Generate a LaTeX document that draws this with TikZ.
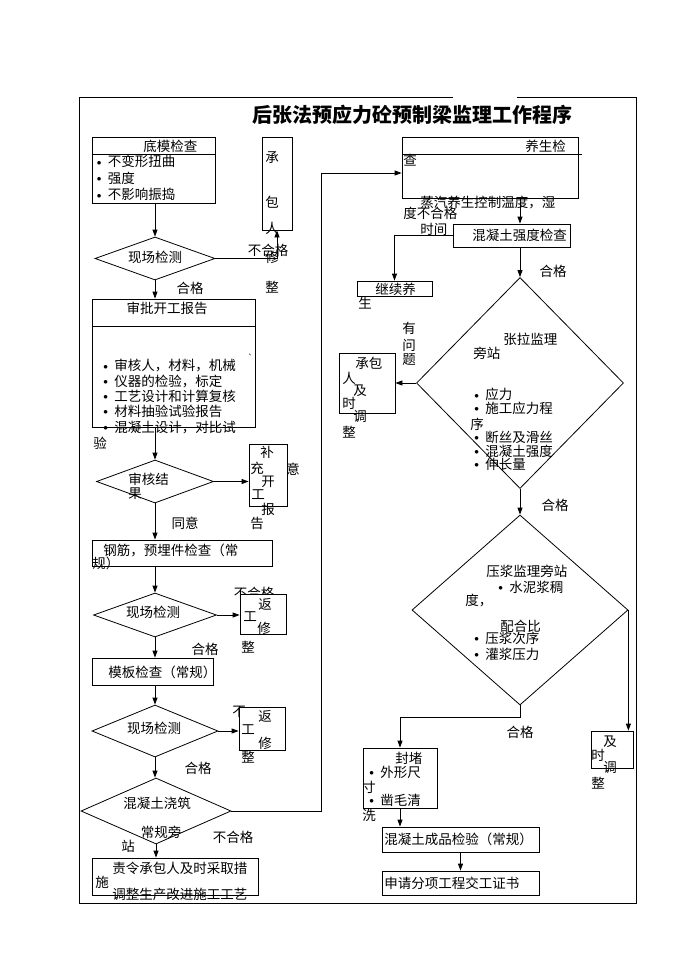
\documentclass[tikz,border=0pt]{standalone}
\usepackage{fontspec}
\setmainfont{Noto Sans CJK SC}
\usetikzlibrary{arrows.meta,shapes.geometric}

\newcommand\itm{\makebox[11pt][l]{\raisebox{0.25ex}{$\scriptstyle\bullet$}}}

\begin{document}
\begin{tikzpicture}[x=1pt,y=-1pt,
    >={Triangle[length=7pt,width=5pt]},
    line width=0.8pt,
    txt/.style={inner sep=0pt,font=\fontsize{13.5pt}{16.5pt}\selectfont},
    lst/.style={txt,align=left,anchor=north west}]
    \useasboundingbox (0,0) rectangle (690,975);

    % frame and title
    \draw (453,97) -- (79,97) -- (79,903) -- (636,903) -- (636,97) -- (517,97);
    \node[inner sep=0pt,font=\fontsize{20pt}{24pt}\selectfont\bfseries] (title) at (412,115) {后张法预应力砼预制梁监理工作程序};

    % labels that sit behind boxes
    \node[txt] (nq1) at (254,593) {不合格};
    \node[txt,anchor=west] (nq2) at (232,712) {不};
    \node[txt] (yi) at (293,469) {意};

    \begin{scope}[every node/.style={draw,fill=white,rectangle,inner sep=0pt}]
        \node[minimum width=123pt,minimum height=66pt] (bmjc) at (153.5,170) {};
        \node[minimum width=30pt,minimum height=93pt] (cbr1) at (277,183.5) {};
        \node[minimum width=163pt,minimum height=128pt] (spbg) at (173.5,363) {};
        \node[minimum width=38pt,minimum height=62pt] (bckg) at (268,475) {};
        \node[minimum width=180pt,minimum height=26pt] (gjyj) at (182,553) {};
        \node[minimum width=46pt,minimum height=40pt] (fx1) at (263,614) {};
        \node[minimum width=121pt,minimum height=27pt] (mbjc) at (152.5,671.5) {};
        \node[minimum width=46pt,minimum height=43pt] (fx2) at (262,728.5) {};
        \node[minimum width=166pt,minimum height=37pt] (zlcb) at (175,876.5) {};
        \node[minimum width=176pt,minimum height=61pt] (ysjc) at (490,167.5) {};
        \node[minimum width=117pt,minimum height=23pt] (qdjc) at (511.5,235.5) {};
        \node[minimum width=75pt,minimum height=15pt] (jxys) at (394.5,288.5) {};
        \node[minimum width=56pt,minimum height=60pt] (cbr2) at (367,383) {};
        \node[minimum width=42pt,minimum height=37pt] (jstz) at (612,749.5) {};
        \node[minimum width=74pt,minimum height=60pt] (fd) at (400,778) {};
        \node[minimum width=157pt,minimum height=25pt] (cpjy) at (460.5,839.5) {};
        \node[minimum width=157pt,minimum height=24pt] (sqjg) at (460.5,883) {};
    \end{scope}

    \begin{scope}[every node/.style={draw,fill=white,diamond,inner sep=0pt}]
        \node[minimum width=120pt,minimum height=43pt] (xc1) at (155,258.5) {};
        \node[minimum width=117pt,minimum height=43pt] (shjg) at (155,481.5) {};
        \node[minimum width=123pt,minimum height=44pt] (xc2) at (155,615) {};
        \node[minimum width=126pt,minimum height=52pt] (xc3) at (155,731) {};
        \node[minimum width=150pt,minimum height=66pt] (hnjz) at (156,811) {};
        \node[minimum width=207pt,minimum height=211pt] (zlpz) at (520,383) {};
        \node[minimum width=216pt,minimum height=190pt] (yjpz) at (520,610) {};
    \end{scope}

    % header lines
    \draw ([yshift=-18pt]bmjc.north west) -- ([yshift=-18pt]bmjc.north east);
    \draw ([yshift=-28pt]spbg.north west) -- ([yshift=-28pt]spbg.north east);
    \draw ([yshift=-18pt]ysjc.north west) -- ([yshift=-18pt,xshift=4pt]ysjc.north east);

    % connectors
    \path [->] (xc1.north |- bmjc.south) edge (xc1.north);
    \draw [->] (xc1.east) -| (cbr1.south);
    \path [->] (xc1.south) edge (xc1.south |- spbg.north);
    \path [->] (shjg.north |- spbg.south) edge (shjg.north);
    \path [->] (shjg.east) edge (shjg.east -| bckg.west);
    \path [->] (shjg.south) edge (shjg.south |- gjyj.north);
    \path [->] (xc2.north |- gjyj.south) edge (xc2.north);
    \path [->] (xc2.east) edge (xc2.east -| fx1.west);
    \path [->] (xc2.south) edge (xc2.south |- mbjc.north);
    \path [->] (xc3.north |- mbjc.south) edge (xc3.north);
    \path [->] (xc3.east) edge (xc3.east -| fx2.west);
    \path [->] (xc3.south) edge (xc3.south |- hnjz.north);
    \path [->] (hnjz.south) edge (hnjz.south |- zlcb.north);
    \coordinate (back) at (321,173);
    \draw [->] (hnjz.east) -| (back) -- (back -| ysjc.west);
    \path [->] (ysjc.south -| zlpz.north) edge (qdjc.north -| zlpz.north);
    \draw [->] (qdjc.west) -| (jxys.north);
    \path [->] (qdjc.south -| zlpz.north) edge (zlpz.north);
    \path [->] (zlpz.west) edge (zlpz.west -| cbr2.east);
    \path [->] (zlpz.south) edge (yjpz.north);
    \path [->] (yjpz.east) edge (yjpz.east |- jstz.north);
    \coordinate (yjturn) at (520,717);
    \draw [->] (yjpz.south) -- (yjturn) -| (fd.north);
    \path [->] (fd.south) edge (fd.south |- cpjy.north);
    \path [->] (cpjy.south) edge (sqjg.north);

    % texts, left column
    \node[txt,anchor=west] (t1) at (143,146) {底模检查};
    \node[lst] (t1l) at (96.5,155) {\itm 不变形扭曲\\\itm 强度\\\itm 不影响振捣};
    \foreach \c/\x/\y [count=\i] in {承/272/158,包/272/202,人/272/228,修/272/257,整/272/287}
        \node[txt] (cbr1t\i) at (\x,\y) {\c};
    \node[txt] (t2) at (155,257) {现场检测};
    \node[txt] (t2n) at (268,250) {不合格};
    \node[txt] (t2h) at (190,288) {合格};
    \node[txt] (t3) at (167,308) {审批开工报告};
    \node[txt,font=\fontsize{7pt}{8pt}\selectfont] (t3d) at (252,355) {、};
    \node[lst,font=\fontsize{13.5pt}{15.3pt}\selectfont] (t3l) at (103,359) {\itm 审核人，材料，机械\\\itm 仪器的检验，标定\\\itm 工艺设计和计算复核\\\itm 材料抽验试验报告\\\itm 混凝土设计，对比试};
    \node[txt,anchor=west] (t3y) at (93,443) {验};
    \node[lst,font=\fontsize{13.5pt}{14pt}\selectfont] (t4) at (128,473) {审核结\\果};
    \foreach \c/\x/\y [count=\i] in {补/267/452,充/257/468,开/268/482,工/258/495,报/268/509,告/257/523}
        \node[txt] (bckgt\i) at (\x,\y) {\c};
    \node[txt] (t4t) at (185,523) {同意};
    \node[txt,anchor=west] (t5) at (103,550) {钢筋，预埋件检查（常};
    \node[txt,anchor=west] (t5b) at (92,563) {规）};
    \node[txt] (t6) at (153,612) {现场检测};
    \foreach \c/\x/\y [count=\i] in {返/265/604,工/250/617,修/264/628,整/248/647}
        \node[txt] (fx1t\i) at (\x,\y) {\c};
    \node[txt] (t6h) at (205,649) {合格};
    \node[txt,anchor=west] (t7) at (108,672) {模板检查（常规）};
    \node[txt] (t8) at (154,728) {现场检测};
    \foreach \c/\x/\y [count=\i] in {返/265/716,工/248/730,修/265/743,整/248/757}
        \node[txt] (fx2t\i) at (\x,\y) {\c};
    \node[txt] (t8h) at (198,768) {合格};
    \node[txt] (t9) at (157,803) {混凝土浇筑};
    \node[txt] (t9b) at (161,832) {常规旁};
    \node[txt] (t9c) at (128,846) {站};
    \node[txt] (t9n) at (233,837) {不合格};
    \node[txt,anchor=west] (t10) at (112,868) {责令承包人及时采取措};
    \node[txt,anchor=west] (t10b) at (95,882) {施};
    \node[txt,anchor=west] (t10c) at (112,894) {调整生产改进施工工艺};

    % texts, right column
    \node[txt,anchor=west] (r1) at (525,146) {养生检};
    \node[txt,anchor=west] (r1b) at (403,160) {查};
    \node[txt,anchor=west] (r1c) at (420,202) {蒸汽养生控制温度，湿};
    \node[txt,anchor=west] (r1d) at (403,213) {度不合格};
    \node[txt,anchor=west] (r1e) at (420,229) {时间};
    \node[txt,anchor=west] (r2) at (472,235) {混凝土强度检查};
    \node[txt] (r2h) at (553,271) {合格};
    \node[txt,anchor=west] (r3) at (375,289) {继续养};
    \node[txt,anchor=west] (r3b) at (358,303) {生};
    \foreach \c/\y [count=\i] in {有/328,问/345,题/360}
        \node[txt] (yw\i) at (409,\y) {\c};
    \node[txt,anchor=west] (r4) at (355,363) {承包};
    \foreach \c/\x/\y [count=\i] in {人/349/378,及/360/391,时/349/403,调/360/417,整/349/432}
        \node[txt] (cbr2t\i) at (\x,\y) {\c};
    \node[txt,anchor=west] (r5) at (503,339) {张拉监理};
    \node[txt,anchor=west] (r5b) at (473,353) {旁站};
    \node[lst,font=\fontsize{13.5pt}{13.5pt}\selectfont] (r5l) at (474,388) {\itm 应力\\\itm 施工应力程};
    \node[txt,anchor=west] (r5x) at (470,424) {序};
    \node[lst,font=\fontsize{13.5pt}{13.5pt}\selectfont] (r5m) at (474,431) {\itm 断丝及滑丝\\\itm 混凝土强度\\\itm 伸长量};
    \node[txt] (r5h) at (555,505) {合格};
    \node[txt,anchor=west] (r6) at (486,571) {压浆监理旁站};
    \node[txt,anchor=west] (r6b) at (498,587) {\itm 水泥浆稠};
    \node[txt,anchor=west] (r6c) at (465,601) {度，};
    \node[txt,anchor=west] (r6d) at (500,626) {配合比};
    \node[lst,font=\fontsize{13.5pt}{16pt}\selectfont] (r6l) at (474,632) {\itm 压浆次序\\\itm 灌浆压力};
    \foreach \c/\x/\y [count=\i] in {及/610/742,时/598/755,调/610/768,整/598/783}
        \node[txt] (jstzt\i) at (\x,\y) {\c};
    \node[txt] (r7h) at (520,732) {合格};
    \node[txt,anchor=west] (r8) at (395,758) {封堵};
    \node[txt,anchor=west] (r8b) at (369,772) {\itm 外形尺};
    \node[txt,anchor=west] (r8c) at (362,787) {寸};
    \node[txt,anchor=west] (r8d) at (369,800) {\itm 凿毛清};
    \node[txt,anchor=west] (r8e) at (362,815) {洗};
    \node[txt,anchor=west] (r9) at (384,839) {混凝土成品检验（常规）};
    \node[txt,anchor=west] (r10) at (384,883) {申请分项工程交工证书};
\end{tikzpicture}
\end{document}
